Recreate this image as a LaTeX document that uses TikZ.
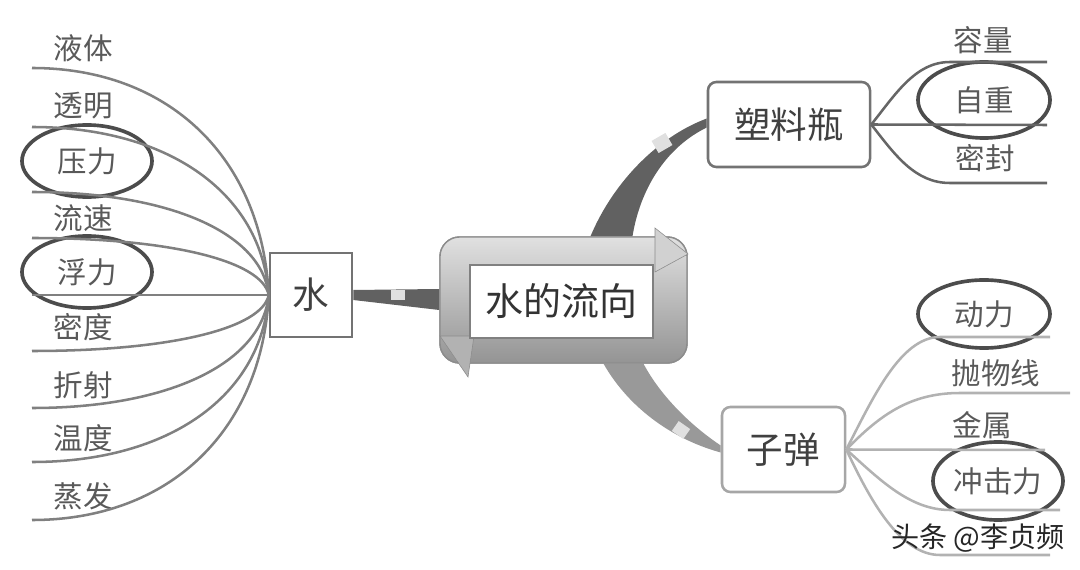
\documentclass[tikz,border=0pt]{standalone}
\usepackage{fontspec}
\setmainfont{Noto Sans CJK SC}
\usetikzlibrary{shapes.geometric,calc}

\begin{document}
\begin{tikzpicture}[x=0.025cm,y=-0.025cm,
		leaf/.style={text=black!65,font=\fontsize{21}{21}\selectfont,inner sep=0pt},
		circled/.style={leaf,draw=black!70,line width=2.6pt,ellipse,minimum width=3.25cm,minimum height=1.8cm},
		branch/.style={draw=black!50,line width=1.8pt},
		topic/.style={draw=black!55,line width=1.8pt,fill=white,text=black!75,inner sep=0pt,font=\fontsize{26}{26}\selectfont}]
		\useasboundingbox (0,0) rectangle (1080,570);
		% the three topics
		\node[topic,minimum width=2.05cm,minimum height=2.1cm] (water) at (311,295) {水};
		\node[topic,rounded corners=6pt,minimum width=4.05cm,minimum height=2.125cm] (bottle) at (789,124.5) {塑料瓶};
		\node[topic,draw=black!35,rounded corners=6pt,minimum width=3.075cm,minimum height=2.125cm] (bullet) at (783.5,449.5) {子弹};
		% the centre frame
		\node[draw=black!45,line width=1pt,rounded corners=14pt,top color=black!12,bottom color=black!42,minimum width=6.175cm,minimum height=3.15cm] (frame) at (563.5,300) {};
		% left leaves
		\node[leaf] (yeti) at (83,48) {液体};
		\node[leaf] (touming) at (83,106) {透明};
		\node[circled] (yali) at (87,161) {压力};
		\node[leaf] (liusu) at (83,218) {流速};
		\node[circled] (fuli) at (87,272) {浮力};
		\node[leaf] (midu) at (83,327) {密度};
		\node[leaf] (zheshe) at (83,385) {折射};
		\node[leaf] (wendu) at (83,438) {温度};
		\node[leaf] (zhengfa) at (83,496) {蒸发};
		\foreach \i/\y in {1/68,2/127,3/192,4/238,5/295,6/351,7/408,8/462,9/520}
		\coordinate (l\i) at (32,\y);
		\foreach \i/\y in {1/68,2/127,3/192,4/238,6/351,7/408,8/462,9/520}
		\draw[branch] (l\i) .. controls (170,\y) and (262,{\y+0.4*(295-\y)}) .. (water.west);
		\draw[branch] (l5) -- (water.west);
		% right leaves of the bottle
		\node[leaf] (rongliang) at (983,40) {容量};
		\node[circled,minimum width=3.3cm,minimum height=1.9cm] (zizhong) at (984,100) {自重};
		\node[leaf] (mifeng) at (985,158) {密封};
		\coordinate (b1) at (1047,62);
		\coordinate (b2) at (1047,125);
		\coordinate (b3) at (1047,183);
		\draw[branch,draw=black!60] (bottle.east) .. controls (895,95) and (915,62) .. (950,62) -- (b1);
		\draw[branch,draw=black!60] (bottle.east) -- (b2);
		\draw[branch,draw=black!60] (bottle.east) .. controls (895,155) and (915,183) .. (950,183) -- (b3);
		% right leaves of the bullet
		\node[circled,minimum width=3.3cm,minimum height=1.7cm] (dongli) at (984,314) {动力};
		\node[leaf] (paowuxian) at (996,373) {抛物线};
		\node[leaf] (jinshu) at (982,425) {金属};
		\node[circled,minimum width=3.25cm,minimum height=1.95cm] (chongjili) at (998,481) {冲击力};
		\coordinate (s1) at (1050,337);
		\coordinate (s2) at (1070,393);
		\coordinate (s3) at (1045,450);
		\coordinate (s4) at (1060,510);
		\coordinate (s5) at (1050,555);
		\draw[branch,draw=black!30] (bullet.east) .. controls (872,400) and (900,337) .. (940,337) -- (s1);
		\draw[branch,draw=black!30] (bullet.east) .. controls (880,415) and (910,393) .. (960,393) -- (s2);
		\draw[branch,draw=black!30] (bullet.east) -- (s3);
		\draw[branch,draw=black!30] (bullet.east) .. controls (880,480) and (910,510) .. (950,510) -- (s4);
		\draw[branch,draw=black!30] (bullet.east) .. controls (870,500) and (900,555) .. (940,555) -- (s5);
		% thick links from the centre
		\fill[black!62] ($(water.east)+(0,-5)$) -- ($(frame.west)+(0,-11)$) -- ($(frame.west)+(0,10)$) -- ($(water.east)+(0,5)$) -- cycle;
		\fill[black!12] (391,290) rectangle (405,300);
		\fill[black!62] ($(frame.north)+(27,0)$) .. controls (612,185) and (655,138) .. ($(bottle.west)+(0,-6)$) -- ($(bottle.west)+(0,3)$) .. controls (665,148) and (640,190) .. ($(frame.north)+(69,0)$) -- cycle;
		\fill[black!12,rotate around={30:(662,143)}] (654,136) rectangle (670,150);
		\fill[black!40] ($(frame.south)+(40,0)$) .. controls (630,410) and (675,440) .. ($(bullet.west)+(0,3)$) -- ($(bullet.west)+(0,-4)$) .. controls (690,425) and (660,395) .. ($(frame.south)+(80,0)$) -- cycle;
		\fill[black!12,rotate around={-35:(681,430)}] (674,424) rectangle (688,436);
		% the frame again over the links, with its two arrow tips
		\node[draw=black!45,line width=1pt,rounded corners=14pt,top color=black!12,bottom color=black!42,minimum width=6.175cm,minimum height=3.15cm] at (frame) {};
		\filldraw[draw=black!45,fill=black!18] (655,228) -- (688,254) -- (655,272) -- cycle;
		\filldraw[draw=black!45,fill=black!30] (440,336) -- (474,336) -- (468,377) -- cycle;
		\node[draw=black!50,line width=1pt,fill=white,text=black!80,inner sep=0pt,minimum width=4.575cm,minimum height=1.825cm,font=\fontsize{27}{27}\selectfont] (flow) at (561.5,301.5) {水的流向};
		\node[text=black!85,inner sep=0pt,font=\fontsize{20}{20}\selectfont] (mark) at (978,538) {头条 @李贞频};
	\end{tikzpicture}
\end{document}
